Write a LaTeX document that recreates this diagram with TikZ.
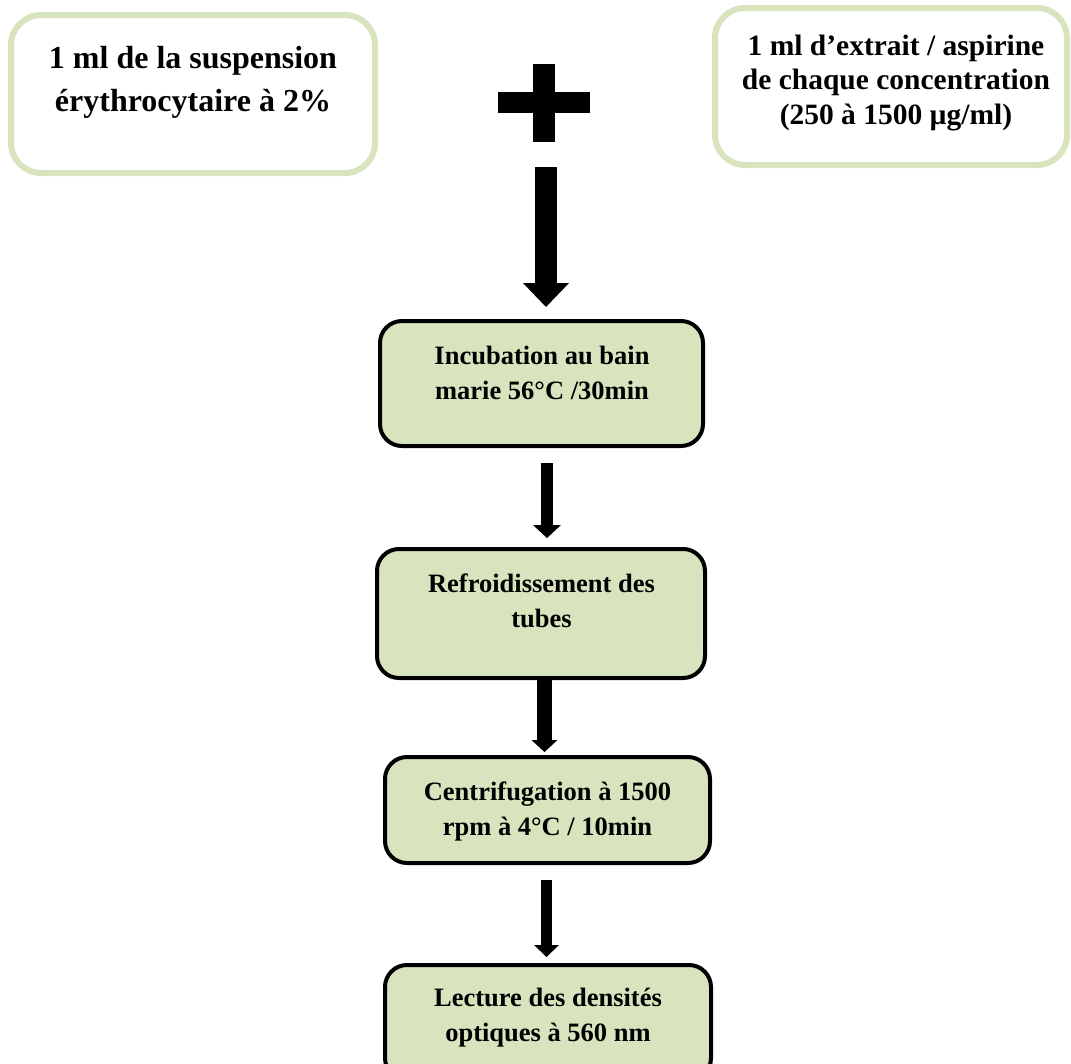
\documentclass[tikz,border=0pt]{standalone}
\usepackage{fontspec}
\setmainfont{Liberation Serif}
\usetikzlibrary{arrows.meta}
\definecolor{olv}{HTML}{D7E4BD}
\begin{document}
\begin{tikzpicture}[x=1pt,y=-1pt,
  inbox/.style={draw=olv, line width=6pt, fill=white, rounded corners=30pt, inner sep=0pt},
  procbox/.style={draw=black, line width=4pt, fill=olv, rounded corners=22pt, inner sep=0pt},
  bigtxt/.style={align=center, inner sep=0pt, font=\bfseries\fontsize{32}{43}\selectfont},
  medtxt/.style={align=center, inner sep=0pt, font=\bfseries\fontsize{29.5}{34.5}\selectfont},
  boxtxt/.style={align=center, inner sep=0pt, font=\bfseries\fontsize{26.5}{35}\selectfont},
  blockarrow/.style n args={3}{draw=black, line width=#1pt,
     -{Triangle[length=#3pt, width=#2pt, line width=0pt]}}]
\useasboundingbox (0,0) rectangle (1071,1063);
\clip (0,0) rectangle (1071,1063);
\fill[white] (0,0) rectangle (1071,1063);

% top input boxes
\node[inbox, minimum width=364pt, minimum height=158pt] (s1) at (193,94) {};
\node[bigtxt] (s1t) at (193,82) {1 ml de la suspension\\érythrocytaire à 2\%};
\node[inbox, minimum width=352pt, minimum height=157pt] (s2) at (891,86.5) {};
\node[medtxt] (s2t) at (896,83) {1 ml d’extrait / aspirine\\de chaque concentration\\(250 à 1500 µg/ml)};

% plus sign
\fill[black] (533,64) rectangle (555,142);
\fill[black] (498,92) rectangle (590,113);

% process boxes
\node[procbox, minimum width=323pt, minimum height=125pt] (b1) at (541.5,383.5) {};
\node[boxtxt] (b1t) at (542,373) {Incubation au bain\\marie 56°C /30min};
\node[procbox, minimum width=328pt, minimum height=129pt] (b2) at (541,613.5) {};
\node[boxtxt] (b2t) at (541.5,601) {Refroidissement des\\tubes};
\node[procbox, minimum width=325pt, minimum height=106pt] (b3) at (547.5,810) {};
\node[boxtxt] (b3t) at (547.5,811) {Centrifugation à 1500\\rpm à 4°C / 10min};
\node[procbox, minimum width=326pt, minimum height=115pt] (b4) at (548,1022.5) {};
\node[boxtxt] (b4t) at (548,1018) {Lecture des densités\\optiques à 560 nm};

% arrows
\coordinate (a1) at (546,167);
\coordinate (a2) at (547,463);
\coordinate (a3) at (544.5,680);
\coordinate (a4) at (546.5,880);
\draw[blockarrow={22}{46}{24}, shorten >=12pt] (a1) -- (a1 |- b1.north);
\draw[blockarrow={12}{28}{13}, shorten >=9pt] (a2) -- (a2 |- b2.north);
\draw[blockarrow={15}{26}{12}, shorten >=3pt] (a3) -- (a3 |- b3.north);
\draw[blockarrow={11}{25}{12}, shorten >=6pt] (a4) -- (a4 |- b4.north);
\end{tikzpicture}
\end{document}
